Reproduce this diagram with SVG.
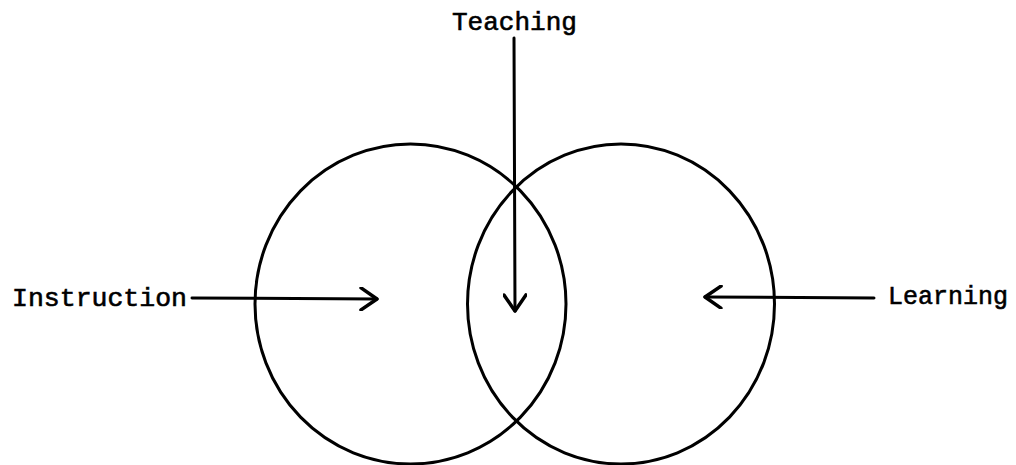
<svg xmlns="http://www.w3.org/2000/svg" width="1016" height="465" viewBox="0 0 1016 465">
  <style>
    .ring { fill: none; stroke: #000; stroke-width: 3; }
    .conn { fill: none; stroke: #000; stroke-width: 3; stroke-linecap: round; }
    .label { font-family: "Liberation Mono", "DejaVu Sans Mono", monospace; font-size: 26px; fill: #000; stroke: #000; stroke-width: 0.6; }
  </style>
  <defs>
    <marker id="vhead" viewBox="0 0 20 24" refX="18" refY="12" markerWidth="20" markerHeight="24" markerUnits="userSpaceOnUse" orient="auto">
      <path d="M2,1 L18,12 L2,23" fill="none" stroke="#000" stroke-width="3.5" stroke-linecap="round" stroke-linejoin="round"/>
    </marker>
  </defs>
  <rect width="1016" height="465" fill="#fff"/>
  <g id="instruction-circle">
    <ellipse class="ring" cx="410.5" cy="304" rx="155.5" ry="160"/>
  </g>
  <g id="learning-circle">
    <ellipse class="ring" cx="621" cy="304" rx="153.5" ry="160"/>
  </g>
  <g id="teaching">
    <text class="label" x="452" y="30" textLength="125" lengthAdjust="spacingAndGlyphs">Teaching</text>
  </g>
  <g id="instruction">
    <text class="label" x="12" y="306" textLength="175" lengthAdjust="spacingAndGlyphs">Instruction</text>
  </g>
  <g id="learning">
    <text class="label" x="888" y="304" textLength="120" lengthAdjust="spacingAndGlyphs">Learning</text>
  </g>
  <g id="connectors">
    <path class="conn" d="M514,38 L515,311" marker-end="url(#vhead)"/>
    <path class="conn" d="M192,298 L377,299" marker-end="url(#vhead)"/>
    <path class="conn" d="M874,298 L705,297" marker-end="url(#vhead)"/>
  </g>
</svg>
